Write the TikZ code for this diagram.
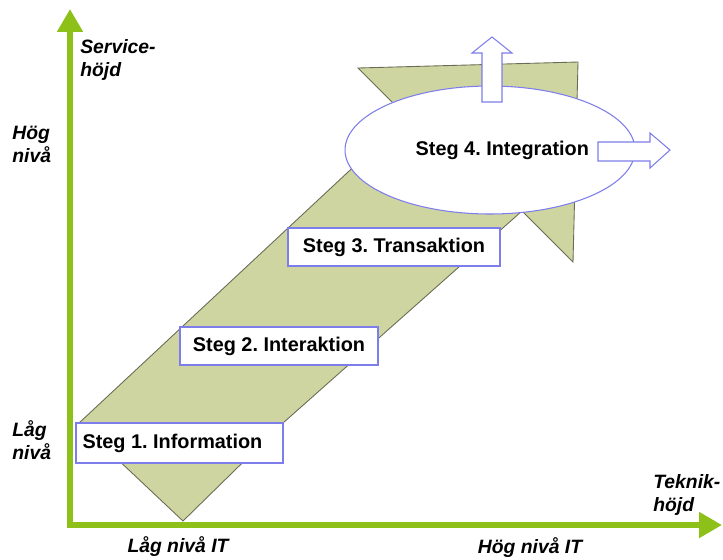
\documentclass[tikz,border=0pt]{standalone}
\usepackage{fontspec}
\setmainfont{Liberation Sans}
\usetikzlibrary{arrows.meta,shapes.geometric}
\frenchspacing

\definecolor{axisgreen}{RGB}{141,192,24}
\definecolor{bandfill}{RGB}{206,213,160}
\definecolor{bandline}{RGB}{105,108,85}
\definecolor{boxblue}{RGB}{125,125,235}

\tikzset{
    axis/.style={draw=axisgreen, line width=3.4pt,
        {Triangle[width=14pt,length=13pt]}-{Triangle[width=14pt,length=13pt]}},
    band/.style={fill=bandfill, draw=bandline, line width=0.5pt},
    stepbox/.style={draw=boxblue, fill=white, line width=0.6pt,
        font=\fontsize{11.3}{13}\selectfont\bfseries, inner sep=0pt},
    blockarrow/.style={draw=boxblue, fill=white, line width=0.6pt},
    axislabel/.style={font=\fontsize{11}{13}\selectfont\bfseries\itshape,
        align=left, inner sep=0pt}
}

\begin{document}
\begin{tikzpicture}[x=0.02cm, y=-0.02cm]
    \useasboundingbox (0,0) rectangle (723,559);
    % Axes
    \coordinate (origin) at (70,525);
    \coordinate (ytip) at (70,9);
    \coordinate (xtip) at (722,525);
    \draw[axis] (ytip) -- (origin) -- (xtip);
    % Band
    \draw[band] (183,521) -- (79,423) -- (407,117) -- (358,68) -- (578,62)
        -- (573,262) -- (522,211) -- (283,423) -- cycle;
    % Steps
    \node[stepbox, minimum width=4.14cm, minimum height=0.8cm] (steg1) at (179.5,443) {Steg 1. Information\hspace*{8pt}};
    \node[stepbox, minimum width=3.96cm, minimum height=0.76cm] (steg2) at (279,346) {Steg 2. Interaktion};
    \node[stepbox, minimum width=4.24cm, minimum height=0.76cm] (steg3) at (394,247) {Steg 3. Transaktion};
    \node[stepbox, ellipse, minimum width=5.8cm, minimum height=2.56cm] (steg4) at (490,150) {\hspace*{14pt}Steg 4. Integration};
    % Arrows out of step 4
    \draw[blockarrow] (482,102) -- (482,53) -- (472,53) -- (492,37) -- (512,53)
        -- (502,53) -- (502,102) -- cycle;
    \draw[blockarrow] (598,142) -- (650,142) -- (650,133) -- (670,150) -- (650,168)
        -- (650,161) -- (598,161) -- cycle;
    % Labels
    \node[axislabel, anchor=north west] (service) at (80,39) {Service-\\höjd};
    \node[axislabel, anchor=north west] (hogniva) at (12,126) {Hög\\nivå};
    \node[axislabel, anchor=north west] (lagniva) at (12,420) {Låg\\nivå};
    \node[axislabel, anchor=north west] (teknik) at (653,474) {Teknik-\\höjd};
    \node[axislabel] (lagit) at (178,547) {Låg nivå IT};
    \node[axislabel] (hogit) at (530,548) {Hög nivå IT};
\end{tikzpicture}
\end{document}
